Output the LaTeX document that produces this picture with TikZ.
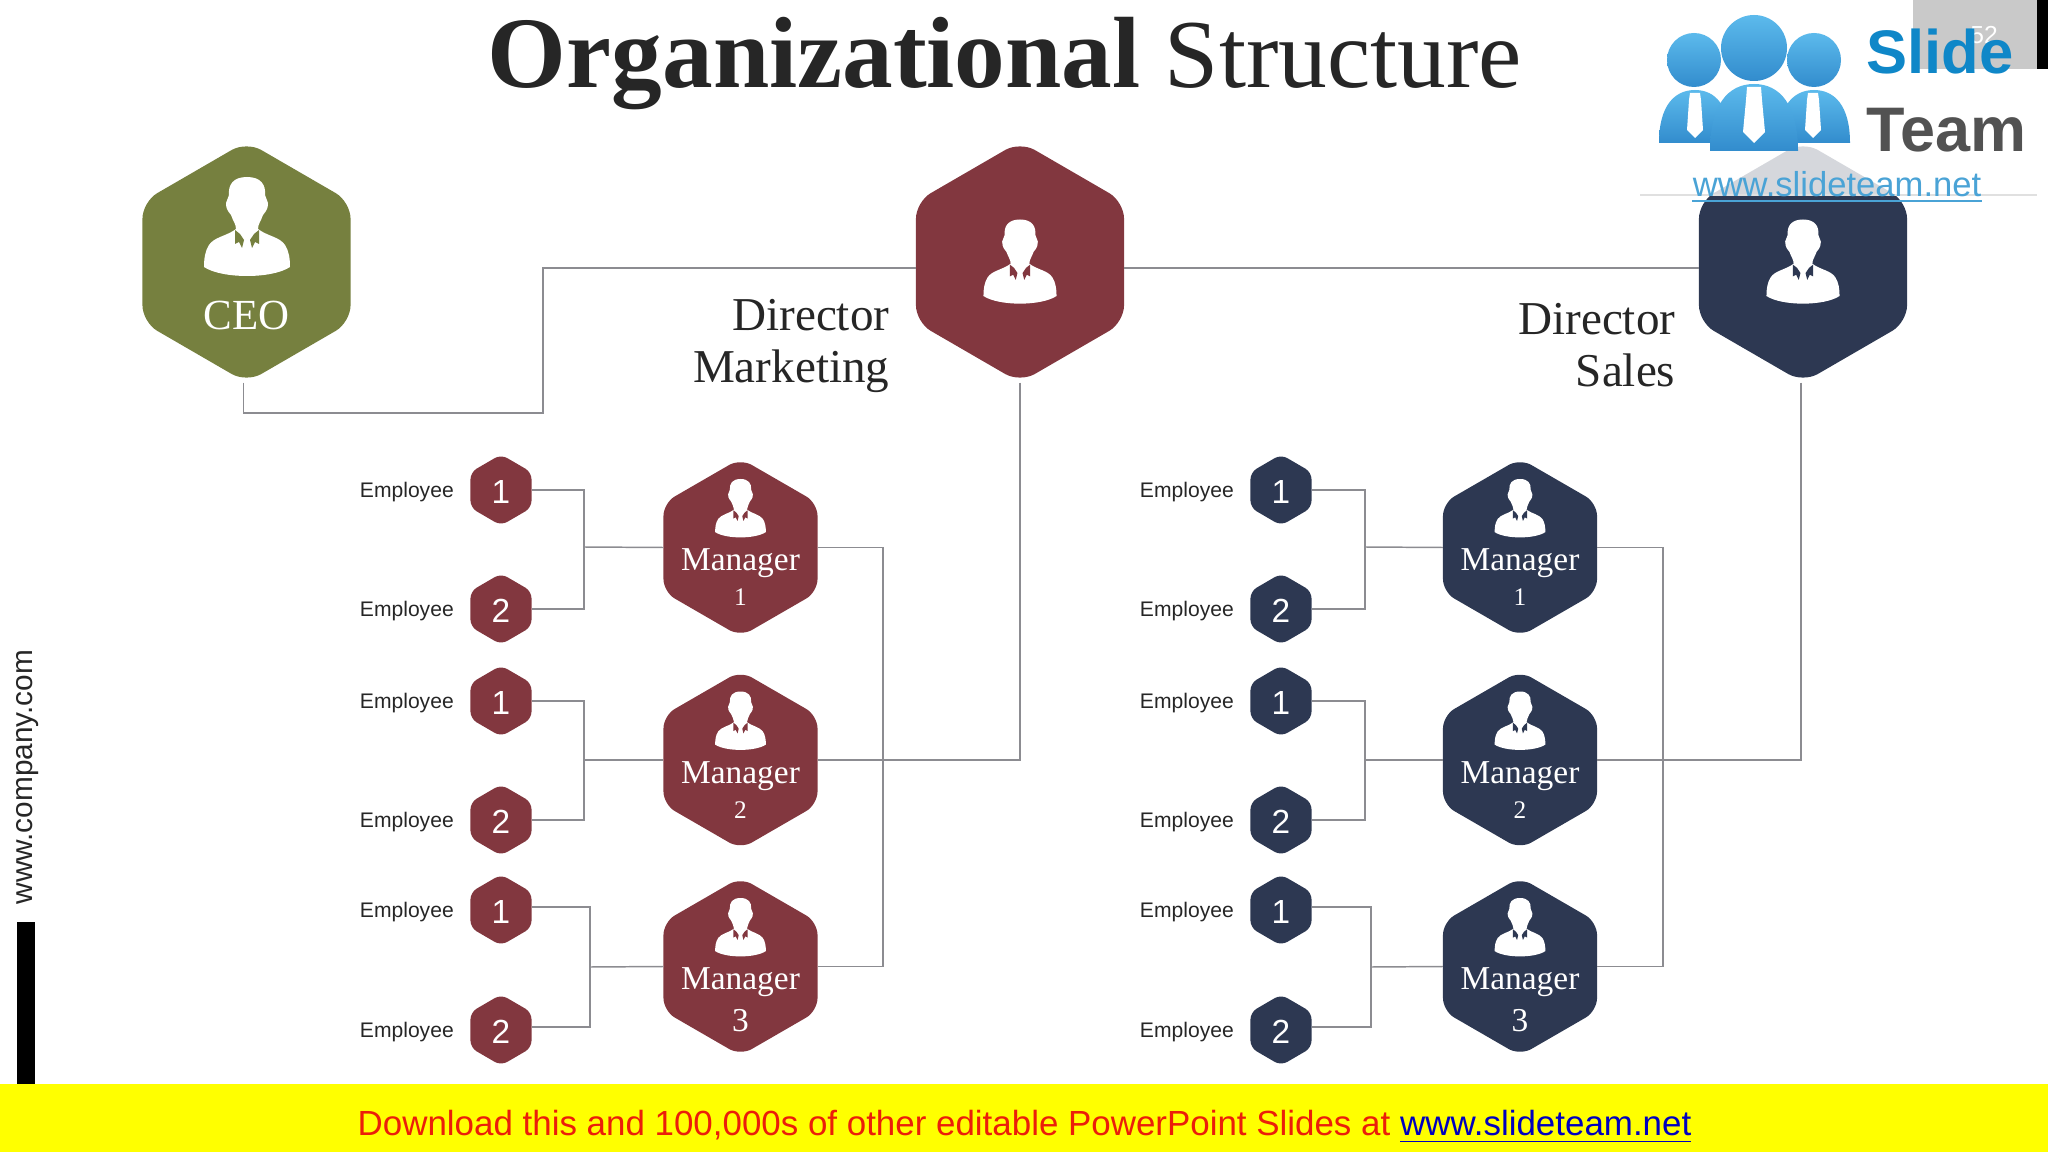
\documentclass[tikz,border=0pt]{standalone}
\usepackage{fontspec}
\setmainfont{Liberation Serif}
\setsansfont{Liberation Sans}
\usetikzlibrary{calc,positioning}
\definecolor{org_olive}{RGB}{118,128,63}
\definecolor{org_maroon}{RGB}{130,55,63}
\definecolor{org_navy}{RGB}{45,56,82}
\definecolor{org_wire}{RGB}{140,140,145}
\definecolor{org_title}{RGB}{38,38,38}
\definecolor{org_blue}{RGB}{74,163,214}
\definecolor{org_headtop}{RGB}{92,186,236}
\definecolor{org_headbot}{RGB}{50,140,205}
\definecolor{org_slide}{RGB}{15,135,200}
\definecolor{org_yellow}{RGB}{255,255,0}
\definecolor{org_red}{RGB}{235,30,10}
\definecolor{org_link}{RGB}{0,0,190}
\tikzset{
  bighex/.style={minimum width=2.08cm,minimum height=2.41cm,inner sep=0,outer sep=0},
  midhex/.style={minimum width=1.54cm,minimum height=1.78cm,inner sep=0,outer sep=0},
  smallhex/.style={minimum width=0.61cm,minimum height=0.71cm,inner sep=0,outer sep=0},
  wire/.style={color=org_wire,line width=0.42pt},
  digit/.style={text=white,font=\sffamily\fontsize{9.5}{11}\selectfont,inner sep=0},
  emptext/.style={text=org_title,font=\sffamily\fontsize{6}{7}\selectfont,inner sep=0},
  mgrtext/.style={text=white,font=\fontsize{9.5}{11}\selectfont,inner sep=0},
  dirtext/.style={text=org_title,font=\fontsize{13.4}{14.8}\selectfont,align=right,inner sep=0},
  logohead/.style={top color=org_headtop,bottom color=org_headbot},
  pics/person/.style={code={
    \fill[white] (0,-50) .. controls (-14,-50) and (-19,-42) .. (-18,-32)
      -- (-21,-24) .. controls (-21,-16) and (-17,-14) .. (-16,-12)
      .. controls (-14,-6) and (-11,-3) .. (-11,2)
      .. controls (-20,9) and (-33,10) .. (-38,18)
      .. controls (-42,24) and (-43,32) .. (-43,40)
      .. controls (-25,52) and (25,52) .. (43,40)
      .. controls (43,32) and (42,24) .. (38,18)
      .. controls (33,10) and (20,9) .. (11,2)
      .. controls (11,-3) and (14,-6) .. (16,-12)
      .. controls (17,-14) and (21,-16) .. (21,-24)
      -- (18,-32) .. controls (19,-42) and (14,-50) .. (0,-50) -- cycle;
    \fill[#1] (-12,3) -- (-7,7) -- (-3,13) -- (-5,21) -- (-8,15) -- (-12,17) -- cycle;
    \fill[#1] (12,3) -- (7,7) -- (3,13) -- (5,21) -- (8,15) -- (12,17) -- cycle;
  }}
}
\newcommand{\lownum}[1]{{\fontsize{7.2}{9}\selectfont #1}}
% name, size style, corner radius, x, y, colour
\newcommand{\hexbox}[6]{
  \node[#2] (#1) at (#4,#5) {};
  \fill[#6,rounded corners=#3] (#1.west) -- ($(#1.north west)!0.25!(#1.south west)$) -- (#1.north)
    -- ($(#1.north east)!0.25!(#1.south east)$) -- ($(#1.north east)!0.75!(#1.south east)$)
    -- (#1.south) -- ($(#1.north west)!0.75!(#1.south west)$) -- cycle;
}
% name, x, y, colour, digit
\newcommand{\staffhex}[5]{
  \hexbox{#1}{smallhex}{0.07cm}{#2}{#3}{#4}
  \node[digit] (#1d) at (#2,#3+2) {#5};
  \node[emptext,left=0.16cm of #1,yshift=-0.02cm] (#1l) {Employee};
}
% name, x, y, colour, digit
\newcommand{\mgrhex}[6]{
  \hexbox{#1}{midhex}{0.13cm}{#2}{#3}{#4}
  \pic[scale=0.59] at (#2,#3-39) {person=#4};
  \node[mgrtext] (#1t) at (#2,#3+16) {Manager};
  \node[mgrtext] (#1n) at (#2,#3+#6) {#5};
}
\begin{document}
\begin{tikzpicture}[x=0.01cm,y=-0.01cm]
\useasboundingbox (0,0) rectangle (2048,1152);
% top hexagons
\hexbox{ceo}{bighex}{0.17cm}{246.5}{262}{org_olive}
\hexbox{mkt}{bighex}{0.17cm}{1020}{262}{org_maroon}
\hexbox{sal}{bighex}{0.17cm}{1803}{262}{org_navy}
\pic at (247,227) {person=org_olive};
\pic[scale=0.85] at (1020,262) {person=org_maroon};
\pic[scale=0.85] at (1803,262) {person=org_navy};
\node[mgrtext,font=\fontsize{12.2}{14}\selectfont] (ceot) at (246.5,316) {CEO};
\node[dirtext,anchor=east] (mktt) at (890,346) {Director\\Marketing};
\node[dirtext,anchor=east] (salt) at (1676,345) {Director\\Sales};
% marketing side
\mgrhex{ma}{740.5}{547.5}{org_maroon}{\lownum{1}}{50}
\mgrhex{mb}{740.5}{760}{org_maroon}{\lownum{2}}{50}
\mgrhex{mc}{740.5}{966.5}{org_maroon}{3}{54}
\staffhex{ea}{501}{490}{org_maroon}{1}
\staffhex{eb}{501}{609}{org_maroon}{2}
\staffhex{ec}{501}{701}{org_maroon}{1}
\staffhex{ed}{501}{820}{org_maroon}{2}
\staffhex{ee}{501}{910}{org_maroon}{1}
\staffhex{ef}{501}{1030}{org_maroon}{2}
% sales side
\mgrhex{sa}{1520}{547.5}{org_navy}{\lownum{1}}{50}
\mgrhex{sb}{1520}{760}{org_navy}{\lownum{2}}{50}
\mgrhex{sc}{1520}{966.5}{org_navy}{3}{54}
\staffhex{ta}{1281}{490}{org_navy}{1}
\staffhex{tb}{1281}{609}{org_navy}{2}
\staffhex{tc}{1281}{701}{org_navy}{1}
\staffhex{td}{1281}{820}{org_navy}{2}
\staffhex{te}{1281}{910}{org_navy}{1}
\staffhex{tf}{1281}{1030}{org_navy}{2}
% connectors
\coordinate (ceobend) at (543,413);
\coordinate (mabus) at (584,547);
\coordinate (mbbus) at (584,760);
\coordinate (mcbus) at (590,967);
\coordinate (mktbus) at (883,760);
\coordinate (sabus) at (1365,547);
\coordinate (sbbus) at (1365,760);
\coordinate (scbus) at (1371,967);
\coordinate (salbus) at (1663,760);
\draw[wire] ([xshift=-0.03cm]ceo.south) |- (ceobend) |- ([yshift=-0.06cm]mkt.west);
\draw[wire] ([yshift=-0.06cm]mkt.east) -- ([yshift=-0.06cm]sal.west);
\draw[wire] (mkt.south) |- (mb.east);
\draw[wire] ([xshift=-0.02cm]sal.south) |- (sb.east);
\draw[wire] (ma.east) -| (mktbus) |- (mc.east);
\draw[wire] (sa.east) -| (salbus) |- (sc.east);
\draw[wire] (ea.east) -| (mabus) |- (eb.east);
\draw[wire] (ec.east) -| (mbbus) |- (ed.east);
\draw[wire] ([yshift=0.03cm]ee.east) -| (mcbus) |- ([yshift=0.03cm]ef.east);
\draw[wire] (mabus) -- (ma.west);
\draw[wire] (mbbus) -- (mb.west);
\draw[wire] (mcbus) -- (mc.west);
\draw[wire] (ta.east) -| (sabus) |- (tb.east);
\draw[wire] (tc.east) -| (sbbus) |- (td.east);
\draw[wire] ([yshift=0.03cm]te.east) -| (scbus) |- ([yshift=0.03cm]tf.east);
\draw[wire] (sabus) -- (sa.west);
\draw[wire] (sbbus) -- (sb.west);
\draw[wire] (scbus) -- (sc.west);
% title and side text
\node[text=org_title,font=\fontsize{27.7}{30}\selectfont,inner sep=0] (title) at (1005,64) {{\fontsize{28.8}{30}\selectfont\bfseries Organizational} Structure};
\node[rotate=90,font=\sffamily\fontsize{8.47}{10}\selectfont,text=org_title,inner sep=0] (site) at (28,777) {www.company.com};
\fill[black] (17,922) rectangle (35,1084);
% logo
\fill[white,opacity=0.8] (1640,0) rectangle (2037,195);
\fill[black!21] (1913,0) rectangle (2037,69);
\fill[black] (2037,0) rectangle (2048,69);
\draw[black!12,line width=0.4pt] (1640,195) -- (2037,195);
\node[text=white,font=\sffamily\fontsize{7}{8}\selectfont,inner sep=0] (pagenum) at (1984,35) {52};
\shade[logohead] (1694,60) circle (27);
\shade[logohead] (1814,60) circle (27);
\shade[logohead] (1659,143) .. controls (1659,105) and (1675,90) .. (1695,90) .. controls (1715,90) and (1730,105) .. (1730,143) -- cycle;
\shade[logohead] (1850,143) .. controls (1850,105) and (1834,90) .. (1814,90) .. controls (1794,90) and (1778,105) .. (1778,143) -- cycle;
\shade[logohead] (1754,48) circle (33);
\shade[logohead] (1710,151) .. controls (1710,105) and (1728,84) .. (1754,84) .. controls (1780,84) and (1798,105) .. (1798,151) -- cycle;
\fill[white] (1690,93) -- (1700,93) -- (1701,100) -- (1703,130) -- (1695,138) -- (1687,130) -- (1689,100) -- cycle;
\fill[white] (1808,93) -- (1818,93) -- (1819,100) -- (1821,130) -- (1813,138) -- (1805,130) -- (1807,100) -- cycle;
\fill[white] (1747,87) -- (1761,87) -- (1762,100) -- (1765,132) -- (1754,143) -- (1743,132) -- (1746,100) -- cycle;
\node[text=org_slide,font=\sffamily\bfseries\fontsize{17.5}{18}\selectfont,anchor=west,inner sep=0] (slide) at (1866,52) {Slide};
\node[text=black!68,font=\sffamily\bfseries\fontsize{17.9}{18}\selectfont,anchor=west,inner sep=0] (team) at (1866,130) {Team};
\node[text=org_blue,font=\sffamily\fontsize{9.84}{11}\selectfont,inner sep=0,anchor=base] (teamurl) at (1837,197) {www.slideteam.net};
\draw[org_blue,line width=0.5pt] (1692,201) -- (1982,201);
% download banner
\fill[org_yellow] (0,1084) rectangle (2048,1152);
\node[font=\sffamily\fontsize{9.93}{11}\selectfont,text=org_red,inner sep=0] (banner) at (1024.5,1127) {Download this and 100,000s of other editable PowerPoint Slides at \textcolor{org_link}{\underline{www.slideteam.net}}};
\end{tikzpicture}
\end{document}
